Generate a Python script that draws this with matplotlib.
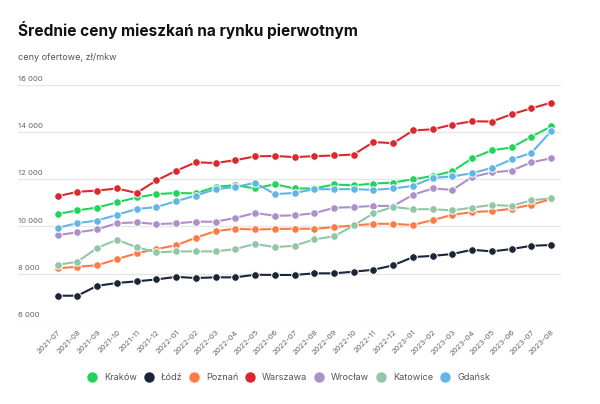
import matplotlib.pyplot as plt
import matplotlib.transforms as mtransforms

plt.rcParams['font.family'] = ['Inter', 'DejaVu Sans']

months = ['2021-07', '2021-08', '2021-09', '2021-10', '2021-11', '2021-12',
          '2022-01', '2022-02', '2022-03', '2022-04', '2022-05', '2022-06',
          '2022-07', '2022-08', '2022-09', '2022-10', '2022-11', '2022-12',
          '2023-01', '2023-02', '2023-03', '2023-04', '2023-05', '2023-06',
          '2023-07', '2023-08']

krakow = [10530, 10680, 10800, 11020, 11230, 11370, 11420, 11400, 11680, 11750, 11610, 11790,
          11610, 11610, 11780, 11740, 11820, 11860, 12000, 12140, 12340, 12890, 13230, 13350,
          13810, 14240]
lodz = [7060, 7060, 7480, 7600, 7670, 7750, 7860, 7810, 7840, 7840, 7950, 7940,
        7940, 8010, 8010, 8080, 8160, 8350, 8700, 8750, 8830, 9010, 8940, 9040,
        9180, 9210]
poznan = [8220, 8290, 8350, 8610, 8860, 9040, 9200, 9520, 9800, 9900, 9870, 9890,
          9900, 9900, 9970, 10040, 10110, 10110, 10060, 10270, 10490, 10610, 10650, 10750,
          10920, 11160]
warszawa = [11280, 11470, 11520, 11610, 11420, 11950, 12360, 12720, 12690, 12810, 12970, 12990,
            12940, 12980, 13010, 13050, 13580, 13530, 14070, 14120, 14320, 14460, 14450, 14760,
            15010, 15250]
wroclaw = [9630, 9750, 9870, 10140, 10170, 10100, 10130, 10200, 10200, 10360, 10570, 10450,
           10470, 10560, 10790, 10820, 10870, 10870, 11340, 11610, 11550, 12100, 12290, 12370,
           12720, 12890]
katowice = [8370, 8500, 9090, 9430, 9120, 8900, 8940, 8940, 8940, 9040, 9260, 9120,
            9180, 9450, 9580, 10040, 10560, 10830, 10730, 10730, 10680, 10800, 10910, 10870,
            11110, 11190]
gdansk = [9940, 10140, 10250, 10490, 10740, 10820, 11070, 11310, 11580, 11670, 11850, 11370,
          11420, 11580, 11580, 11580, 11550, 11610, 11720, 12060, 12120, 12260, 12480, 12840,
          13120, 14040]

series = [
    ('Kraków', krakow, '#22d45e'),
    ('Łódź', lodz, '#1c2535'),
    ('Poznań', poznan, '#ff7b43'),
    ('Warszawa', warszawa, '#d9282f'),
    ('Wrocław', wroclaw, '#ad8fca'),
    ('Katowice', katowice, '#92c6a6'),
    ('Gdańsk', gdansk, '#62b6e6'),
]
yticks = [6000, 8000, 10000, 12000, 14000, 16000]

fig = plt.figure(figsize=(6, 4.04), dpi=100)
ax = fig.add_axes([18 / 600, 1 - 320.7 / 404, (561 - 18) / 600, (320.7 - 85) / 404])

x = list(range(len(months)))
for name, vals, color in series:
    ax.plot(x, vals, color=color, lw=1.5, marker='o', markersize=5.5,
            markeredgecolor='white', markeredgewidth=0.7, label=name, zorder=3)

ax.set_xlim(-2.01, 25.5)
ax.set_ylim(6000, 16000)
ax.set_yticks(yticks)
ax.set_yticklabels([])
ax.tick_params(axis='y', length=0)
ax.grid(axis='y', color='#e6e6e6', lw=1)
ax.set_axisbelow(True)
for s in ax.spines.values():
    s.set_visible(False)

# y labels sit on top of the grid lines, left aligned
trans = mtransforms.blended_transform_factory(ax.transAxes, ax.transData)
for v in yticks:
    ax.text(0, v + 120, f'{v // 1000} 000', transform=trans, fontsize=5.5,
            color='#666666', ha='left', va='bottom')

ax.set_xticks(x)
ax.set_xticklabels(months, rotation=45, ha='right', rotation_mode='anchor',
                   fontsize=5.5, color='#666666')
ax.tick_params(axis='x', length=0, pad=6)

fig.text(18 / 600, 1 - 36 / 404, 'Średnie ceny mieszkań na rynku pierwotnym',
         fontsize=11.1, fontweight='bold', color='#111111', ha='left', va='baseline')
fig.text(18 / 600, 1 - 60 / 404, 'ceny ofertowe, zł/mkw', fontsize=6.5,
         color='#555555', ha='left', va='baseline')

leg = fig.legend(loc='center', bbox_to_anchor=(291 / 600, 1 - 378 / 404), ncol=7,
                 frameon=False, fontsize=6.6, labelcolor='#555555', handlelength=0,
                 handletextpad=1.3, columnspacing=1.3)
for h in leg.legend_handles:
    h.set_linestyle('none')
    h.set_markersize(7.5)
    h.set_markeredgewidth(0)

fig.savefig('out.png', dpi=100, facecolor='white')
